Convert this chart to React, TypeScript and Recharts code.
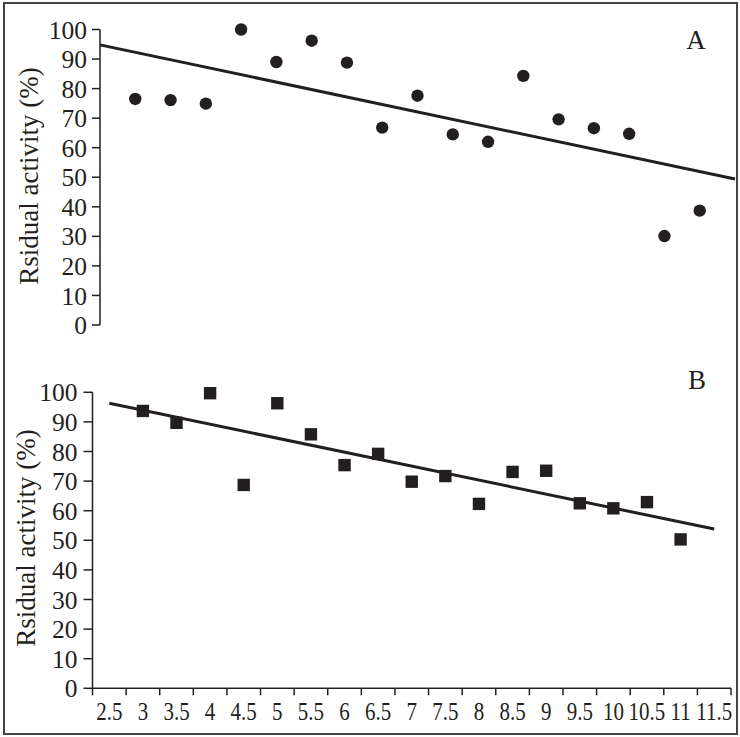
import React from 'react';
import {
  ComposedChart,
  Scatter,
  XAxis,
  YAxis,
  ReferenceLine,
} from 'recharts';

// x positions shared by both panels
const xValues = [3, 3.5, 4, 4.5, 5, 5.5, 6, 6.5, 7, 7.5, 8, 8.5, 9, 9.5, 10, 10.5, 11];
const residualA = [76.5, 76.1, 74.9, 100, 89.0, 96.2, 88.8, 66.8, 77.6, 64.5, 62.0, 84.3, 69.6, 66.6, 64.7, 30.1, 38.7];
const residualB = [93.7, 89.7, 99.7, 68.7, 96.3, 85.8, 75.4, 79.2, 69.8, 71.7, 62.3, 73.1, 73.5, 62.5, 60.8, 62.9, 50.3];

// fitted trend lines (start / end)
const fitA = [{ x: 2.5, y: 94.8 }, { x: 11.5, y: 49.4 }];
const fitB = [{ x: 2.5, y: 96.3 }, { x: 11.5, y: 53.8 }];

const yTicks = [0, 10, 20, 30, 40, 50, 60, 70, 80, 90, 100];
const xTicksB = [2.5, 3, 3.5, 4, 4.5, 5, 5.5, 6, 6.5, 7, 7.5, 8, 8.5, 9, 9.5, 10, 10.5, 11, 11.5];

const dataA = xValues.map((x, i) => ({ x, y: residualA[i] }));
const dataB = xValues.map((x, i) => ({ x, y: residualB[i] }));

const INK = '#231f20';
const FONT = 'Liberation Serif';

const W = 740;
const B_LEFT = 92.5;
const B_RIGHT = 9;
const halfStepB = ((W - B_LEFT - B_RIGHT) / 9.5) * 0.25;
const X_TICK = 7;
const X_MARGIN = 7;

const Dot = (p: any) => <circle cx={p.cx} cy={p.cy} r={6.2} fill={INK} />;
const Square = (p: any) => <rect x={p.cx - 6.2} y={p.cy - 6.2} width={12.4} height={12.4} fill={INK} />;

const XTickB = (p: any) => {
  const { x, y, payload } = p;
  const axisY = y - X_TICK - X_MARGIN;
  const last = payload.value === xTicksB[xTicksB.length - 1];
  return (
    <g>
      <line x1={x - halfStepB} x2={x - halfStepB} y1={axisY} y2={axisY + X_TICK} stroke={INK} strokeWidth={1.5} />
      {last && (
        <line x1={x + halfStepB} x2={x + halfStepB} y1={axisY} y2={axisY + X_TICK} stroke={INK} strokeWidth={1.5} />
      )}
      <g transform={`translate(${x},${y}) scale(0.84,1)`}>
        <text x={0} y={0} dy="0.71em" textAnchor="middle" fill={INK} fontSize={25} fontFamily={FONT}>
          {payload.value}
        </text>
      </g>
    </g>
  );
};

const tickStyle = { fill: INK, fontSize: 25.5, fontFamily: FONT };

const yLabel = (cx: number, cy: number) => (
  <div
    style={{
      position: 'absolute',
      left: cx - 150,
      top: cy - 16,
      width: 300,
      height: 32,
      lineHeight: '32px',
      textAlign: 'center',
      transform: 'rotate(-90deg)',
      fontFamily: FONT,
      fontSize: 27,
      color: INK,
      whiteSpace: 'nowrap',
    }}
  >
    Rsidual activity (%)
  </div>
);

const panelTag = (text: string, cx: number, cy: number) => (
  <div
    style={{
      position: 'absolute',
      left: cx - 20,
      top: cy - 16,
      width: 40,
      height: 32,
      lineHeight: '32px',
      textAlign: 'center',
      fontFamily: FONT,
      fontSize: 27,
      color: INK,
    }}
  >
    {text}
  </div>
);

export default function App() {
  return (
    <div style={{ position: 'absolute', left: 0, top: 0, width: W, height: 737, background: '#fff' }}>
      <div
        style={{
          position: 'absolute',
          left: 3,
          top: 2,
          width: 735,
          height: 733,
          border: '2px solid #444',
          boxSizing: 'border-box',
        }}
      />

      {/* Panel A */}
      <div style={{ position: 'absolute', left: 0, top: 0 }}>
        <ComposedChart width={W} height={340} margin={{ top: 29.5, right: 5, bottom: 15, left: 0 }}>
          <XAxis type="number" dataKey="x" domain={[2.5, 11.5]} hide />
          <YAxis
            type="number"
            dataKey="y"
            domain={[0, 100]}
            ticks={yTicks}
            width={100}
            tickSize={8}
            tickMargin={5}
            tick={tickStyle}
            axisLine={{ stroke: INK, strokeWidth: 1.5 }}
            tickLine={{ stroke: INK, strokeWidth: 1.5 }}
            interval={0}
          />
          <ReferenceLine segment={fitA} stroke={INK} strokeWidth={3} />
          <Scatter data={dataA} shape={Dot} isAnimationActive={false} />
        </ComposedChart>
      </div>

      {/* Panel B */}
      <div style={{ position: 'absolute', left: 0, top: 340 }}>
        <ComposedChart width={W} height={397} margin={{ top: 52.3, right: B_RIGHT, bottom: 8.7, left: 0 }}>
          <XAxis
            type="number"
            dataKey="x"
            domain={[2.25, 11.75]}
            ticks={xTicksB}
            interval={0}
            height={40}
            tickSize={X_TICK}
            tickMargin={X_MARGIN}
            tickLine={false}
            tick={XTickB}
            axisLine={{ stroke: INK, strokeWidth: 1.5 }}
          />
          <YAxis
            type="number"
            dataKey="y"
            domain={[0, 100]}
            ticks={yTicks}
            width={B_LEFT}
            tickSize={9}
            tickMargin={6}
            tick={tickStyle}
            axisLine={{ stroke: INK, strokeWidth: 1.5 }}
            tickLine={{ stroke: INK, strokeWidth: 1.5 }}
            interval={0}
          />
          <ReferenceLine segment={fitB} stroke={INK} strokeWidth={3} />
          <Scatter data={dataB} shape={Square} isAnimationActive={false} />
        </ComposedChart>
      </div>

      {yLabel(28.7, 176)}
      {yLabel(26, 538)}
      {panelTag('A', 696, 40)}
      {panelTag('B', 697, 380)}
    </div>
  );
}
